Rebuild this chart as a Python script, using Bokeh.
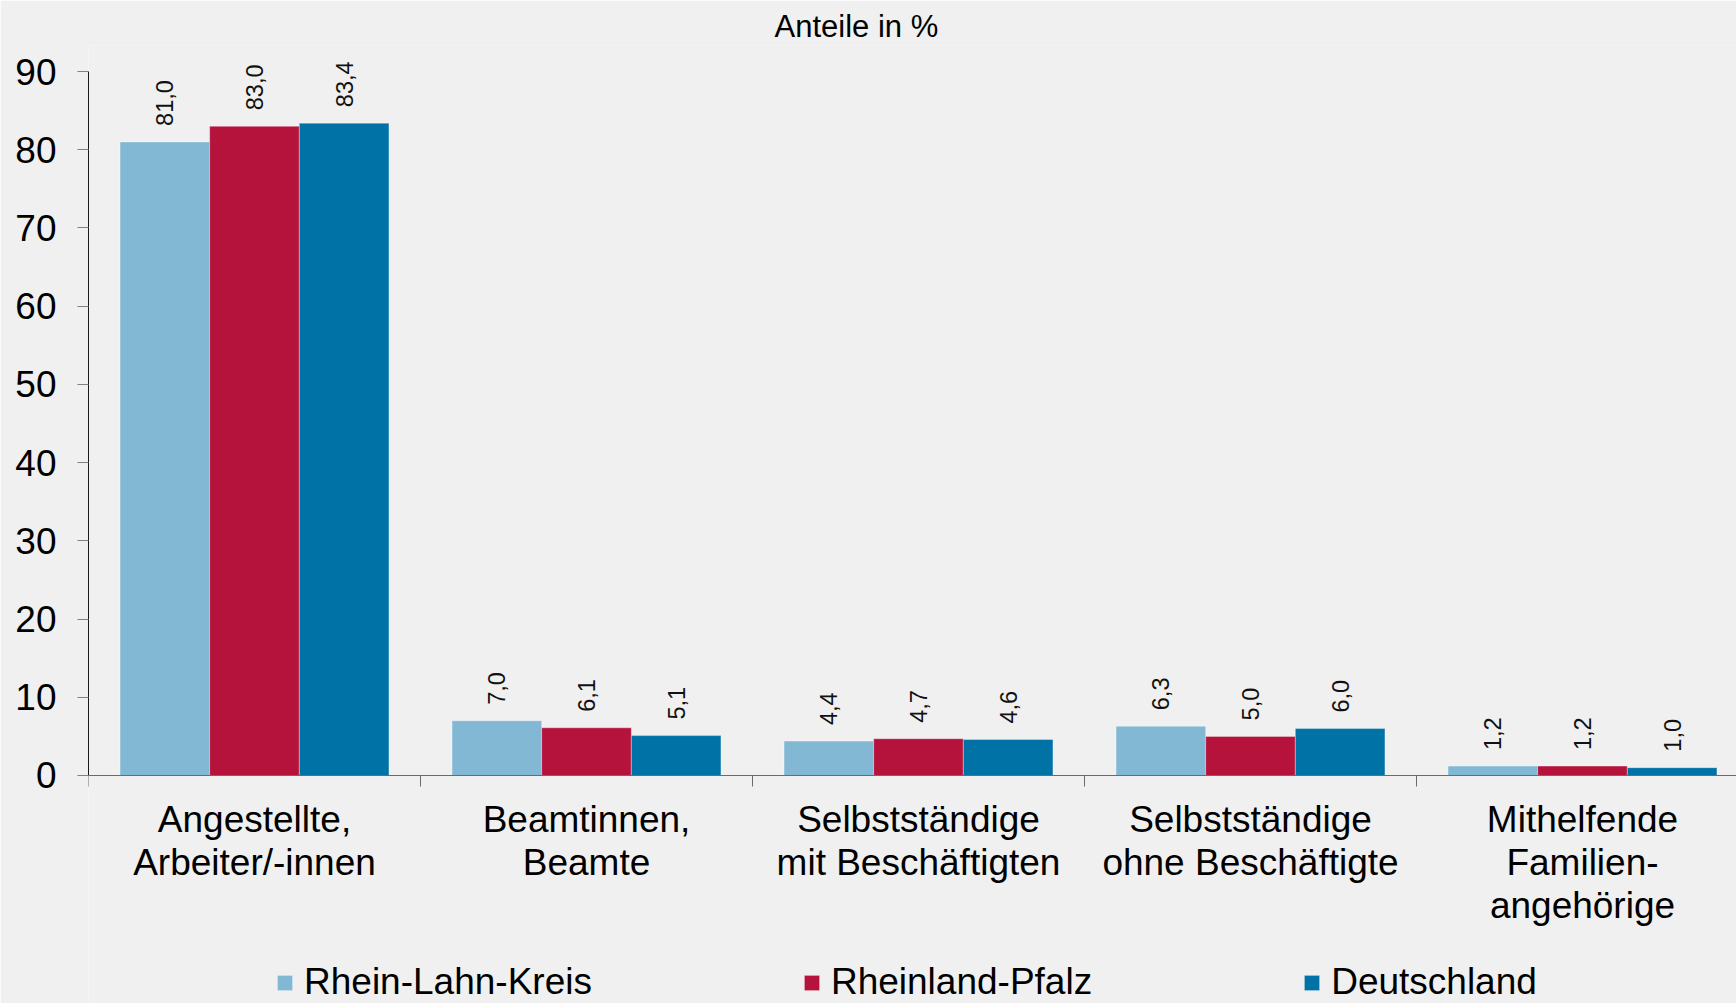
from bokeh.plotting import figure
from bokeh.models import (ColumnDataSource, Range1d, FixedTicker, Legend, LegendItem, Title)
from bokeh.embed import file_html
from bokeh.resources import INLINE

# ---- data ----
categories = ["Angestellte,\nArbeiter/-innen", "Beamtinnen,\nBeamte",
              "Selbstständige\nmit Beschäftigten", "Selbstständige\nohne Beschäftigte",
              "Mithelfende\nFamilien-\nangehörige"]
series_names = ["Rhein-Lahn-Kreis", "Rheinland-Pfalz", "Deutschland"]
rhein_lahn = [81.0, 7.0, 4.4, 6.3, 1.2]
rheinland_pfalz = [83.0, 6.1, 4.7, 5.0, 1.2]
deutschland = [83.4, 5.1, 4.6, 6.0, 1.0]
y_ticks = [0, 10, 20, 30, 40, 50, 60, 70, 80, 90]
title_text = "Anteile in %"

# ---- style ----
colors = ["#82b8d4", "#b5123c", "#0072a5"]
bg = "#eff0ef"
font = "Liberation Sans"
bar_w = 0.27
offsets = [-bar_w, 0.0, bar_w]

p = figure(width=1736, height=1003, output_backend="svg", toolbar_location=None,
           x_range=Range1d(0, 1648 / 332), y_range=Range1d(-29.148, 93.324),
           min_border_left=88, min_border_right=0, min_border_top=45, min_border_bottom=0)
p.background_fill_color = bg
p.border_fill_color = bg
p.outline_line_color = None
p.grid.visible = False

p.title = Title(text=title_text, align="left", offset=686, text_font=font,
                text_font_size="31px", text_font_style="normal", text_color="#000000",
                standoff=4)

renderers = []
for vals, off, col in zip([rhein_lahn, rheinland_pfalz, deutschland], offsets, colors):
    xs = [i + 0.5 + off for i in range(len(vals))]
    src = ColumnDataSource(dict(x=xs, top=vals,
                                lab=[f"{v:.1f}".replace(".", ",") for v in vals]))
    r = p.vbar(x="x", top="top", bottom=0, width=bar_w, source=src, fill_color=col,
               line_color="white", line_alpha=0.35, line_width=1)
    renderers.append(r)
    p.text(x="x", y="top", text="lab", source=src, angle=1.5708, text_align="left",
           text_baseline="middle", y_offset=-16, text_font_size="23.5px",
           text_font={"value": font}, text_color="#111111")

# y axis
ya = p.yaxis[0]
ya.ticker = FixedTicker(ticks=y_ticks)
ya.bounds = (0, 90)
ya.major_tick_out = 11
ya.major_tick_in = 0
ya.minor_tick_line_color = None
ya.axis_line_color = "#1a1a1a"
ya.major_tick_line_color = "#808080"
ya.major_label_standoff = 21
ya.major_label_text_font = font
ya.major_label_text_font_size = "37px"
ya.major_label_text_color = "#000000"

# x axis
xa = p.xaxis[0]
centers = [i + 0.5 for i in range(len(categories))]
xa.ticker = FixedTicker(ticks=centers, minor_ticks=list(range(len(categories) + 1)))
xa.major_label_overrides = {c: lab for c, lab in zip(centers, categories)}
xa.fixed_location = 0
xa.axis_line_color = "#6b6b6b"
xa.major_tick_out = 0
xa.major_tick_in = 0
xa.major_tick_line_color = None
xa.minor_tick_out = 11
xa.minor_tick_in = 0
xa.minor_tick_line_color = "#6b6b6b"
xa.major_label_standoff = 13
xa.major_label_text_font = font
xa.major_label_text_font_size = "37px"
xa.major_label_text_line_height = 1.04
xa.major_label_text_color = "#000000"

legend = Legend(items=[LegendItem(label=n, renderers=[r]) for n, r in zip(series_names, renderers)],
                orientation="horizontal", location=(187, 0), spacing=210,
                glyph_width=19, glyph_height=19, label_standoff=10, padding=0, margin=0,
                border_line_color=None, background_fill_alpha=0,
                label_text_font=font, label_text_font_size="37px", label_text_color="#000000")
p.add_layout(legend)

open("out.html", "w").write(file_html(p, INLINE))
